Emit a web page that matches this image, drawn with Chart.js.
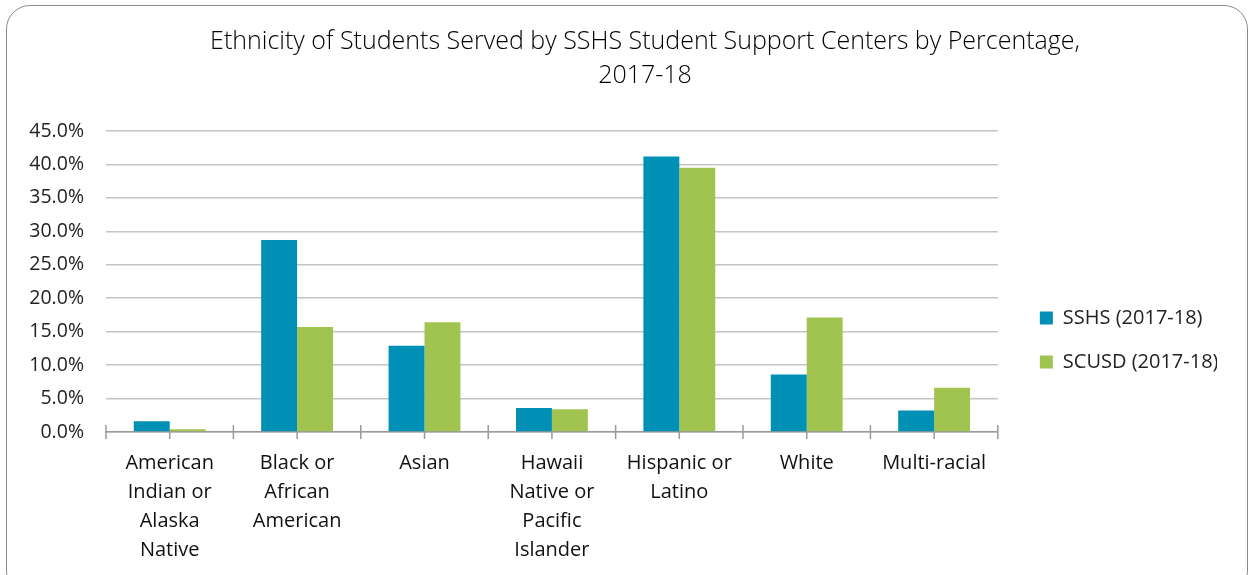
<!DOCTYPE html>
<html>
<head>
<meta charset="utf-8">
<script src="https://cdn.jsdelivr.net/npm/chart.js@4.4.1/dist/chart.umd.min.js"></script>
<style>
  html, body { margin: 0; padding: 0; background: #fff; overflow: hidden; }
  #wrap { position: relative; width: 1249px; height: 575px; }
  #frame { position: absolute; left: 6px; top: 5px; width: 1242px; height: 590px;
           border: 1.5px solid #8c8c8c; border-radius: 24px; box-sizing: border-box; }
  #title { position: absolute; left: 0; top: 22px; width: 1290px; text-align: center;
           font-family: "Open Sans", sans-serif; font-weight: 300; font-size: 25px; line-height: 34px; color: #000; }
  canvas { position: absolute; left: 0; top: 0; }
</style>
</head>
<body>
<div id="wrap">
  <div id="frame"></div>
  <canvas id="chart" width="1249" height="575"></canvas>
  <div id="title">Ethnicity of Students Served by SSHS Student Support Centers by Percentage,<br>2017-18</div>
</div>
<script>
const categories = [
  ["American", "Indian or", "Alaska", "Native"],
  ["Black or", "African", "American"],
  ["Asian"],
  ["Hawaii", "Native or", "Pacific", "Islander"],
  ["Hispanic or", "Latino"],
  ["White"],
  ["Multi-racial"]
];
const sshsValues  = [1.6, 28.7, 12.9, 3.6, 41.2, 8.6, 3.2];
const scusdValues = [0.4, 15.7, 16.4, 3.4, 39.5, 17.1, 6.6];
const seriesNames = ["SSHS (2017-18)", "SCUSD (2017-18)"];
const yTicks = [0, 5, 10, 15, 20, 25, 30, 35, 40, 45];

const FONT = '"Open Sans", sans-serif';

// Excel-style tick marks: long ones between categories, short ones at centers
const tickMarks = {
  id: 'tickMarks',
  afterDraw(chart) {
    const x = chart.scales.x;
    const ctx = chart.ctx;
    const base = x.top;
    const half = (x.getPixelForValue(1) - x.getPixelForValue(0)) / 2;
    ctx.save();
    ctx.strokeStyle = '#9a9a9a';
    ctx.lineWidth = 1.5;
    ctx.beginPath();
    categories.forEach((c, i) => {
      const cx = x.getPixelForValue(i);
      ctx.moveTo(cx, base); ctx.lineTo(cx, base + 7);
      ctx.moveTo(cx - half, base - 7); ctx.lineTo(cx - half, base + 7);
      if (i === categories.length - 1) { ctx.moveTo(cx + half, base - 7); ctx.lineTo(cx + half, base + 7); }
    });
    ctx.stroke();
    ctx.restore();
  }
};

new Chart(document.getElementById('chart'), {
  type: 'bar',
  data: {
    labels: categories,
    datasets: [
      { label: seriesNames[0], data: sshsValues, backgroundColor: '#008fb5', categoryPercentage: 0.564, barPercentage: 1 },
      { label: seriesNames[1], data: scusdValues, backgroundColor: '#a1c451', categoryPercentage: 0.564, barPercentage: 1 }
    ]
  },
  options: {
    responsive: false,
    animation: false,
    layout: { padding: { left: 10, right: 32, top: 131, bottom: 6 } },
    plugins: {
      title: { display: false },
      tooltip: { enabled: false },
      legend: {
        position: 'right',
        align: 'start',
        // empty title used only to push the items down
        title: { display: true, text: '', font: { size: 10, lineHeight: 1 }, padding: { top: 143, bottom: 0 } },
        labels: {
          boxWidth: 13, boxHeight: 13, padding: 24,
          color: '#222',
          font: { family: FONT, size: 20 }
        }
      }
    },
    scales: {
      x: {
        grid: { display: false },
        border: { display: true, color: '#9a9a9a', width: 1.5 },
        ticks: {
          color: '#111', padding: 9, maxRotation: 0, autoSkip: false,
          font: { family: FONT, size: 20, lineHeight: '29px' }
        },
        afterFit(scale) { scale.height = 575 - 432 - 6; }
      },
      y: {
        min: 0, max: 45,
        afterBuildTicks(scale) { scale.ticks = yTicks.map(v => ({ value: v })); },
        grid: { color: '#c4c4c4', lineWidth: 1.5, drawTicks: false },
        border: { display: false },
        ticks: {
          color: '#222', padding: 22,
          font: { family: FONT, size: 19.5 },
          callback: v => v.toFixed(1) + '%'
        },
        afterFit(scale) { scale.width = 106 - 10; }
      },
      // empty spacer between plot and legend
      gap: {
        type: 'linear', position: 'right', display: true,
        grid: { display: false }, border: { display: false }, ticks: { display: false },
        afterFit(scale) { scale.width = 18; }
      }
    }
  },
  plugins: [tickMarks]
});
</script>
</body>
</html>
